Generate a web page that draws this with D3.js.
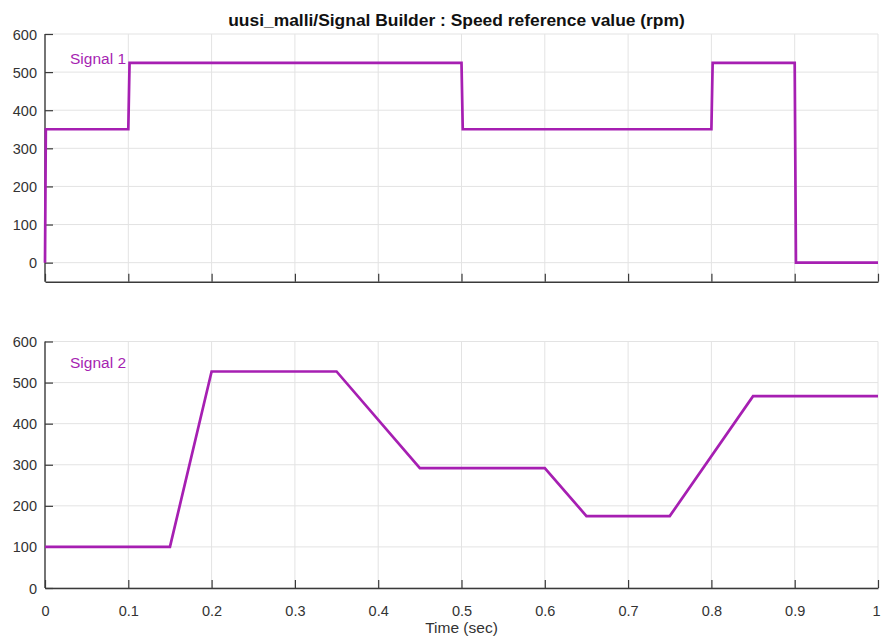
<!DOCTYPE html>
<html><head><meta charset="utf-8">
<script src="https://cdn.jsdelivr.net/npm/d3@7"></script>
<style>
body{margin:0;background:#fff;}
text{font-family:"Liberation Sans",Arial,sans-serif;}
</style></head>
<body><svg id="c" width="881" height="638"></svg>
<script>
const title = "uusi_malli/Signal Builder : Speed reference value (rpm)";
const xLabel = "Time (sec)";
const xTicks = [0,0.1,0.2,0.3,0.4,0.5,0.6,0.7,0.8,0.9,1];
const yTicks = [0,100,200,300,400,500,600];
const signal1Name = "Signal 1";
const signal1Time = [0, 0.001, 0.1, 0.1015, 0.5, 0.5015, 0.8, 0.8015, 0.9, 0.9015, 1];
const signal1Value = [0, 350, 350, 524, 524, 350, 350, 524, 524, 0, 0];
const signal2Name = "Signal 2";
const signal2Time = [0, 0.15, 0.2, 0.35, 0.45, 0.6, 0.65, 0.75, 0.85, 1];
const signal2Value = [100, 100, 527, 527, 292, 292, 175, 175, 467, 467];

const svg = d3.select("#c");
const color = "#a61fb2";
const x = d3.scaleLinear().domain([0,1]).range([45,878]);

const panels = [
  {name:signal1Name, t:signal1Time, v:signal1Value, y:d3.scaleLinear().domain([-50,600]).range([281.7,34]), labels:false},
  {name:signal2Name, t:signal2Time, v:signal2Value, y:d3.scaleLinear().domain([0,600]).range([588,341.5]), labels:true}
];

panels.forEach(p => {
  const g = svg.append("g");
  const [y0,y1] = p.y.range();
  g.append("g").selectAll("line").data(xTicks.slice(1)).join("line")
    .attr("x1",d=>x(d)).attr("x2",d=>x(d)).attr("y1",y1).attr("y2",y0)
    .attr("stroke","#e3e3e3").attr("stroke-width",1);
  g.append("g").selectAll("line").data(yTicks).join("line")
    .attr("x1",x(0)).attr("x2",x(1)).attr("y1",d=>p.y(d)).attr("y2",d=>p.y(d))
    .attr("stroke","#e3e3e3").attr("stroke-width",1);
  const xa = d3.axisBottom(x).tickValues(xTicks).tickSizeInner(-8).tickSizeOuter(0).tickPadding(18)
    .tickFormat(p.labels ? d3.format("") : "");
  const xg = g.append("g").attr("transform",`translate(0,${y0})`).call(xa);
  const ya = d3.axisLeft(p.y).tickValues(yTicks).tickSizeInner(-8).tickSizeOuter(0).tickPadding(8);
  const yg = g.append("g").attr("transform",`translate(${x(0)},0)`).call(ya);
  [xg,yg].forEach(a=>{
    a.select(".domain").attr("stroke","#3a3a3a").attr("stroke-width",1.4);
    a.selectAll(".tick line").attr("stroke","#3a3a3a").attr("stroke-width",1.2);
    a.selectAll("text").attr("fill","#333").style("font-size","14.5px").style("font-family","'Liberation Sans',Arial,sans-serif");
  });
  xg.selectAll(".tick text").filter(d=>d===1).attr("dx","-2");
  yg.selectAll("text").attr("dy","0.35em");
  yg.select(".domain").attr("d",`M0,${y0}V${y1}`);
  const data = p.t.map((t,i)=>[t,p.v[i]]);
  g.append("path").datum(data)
    .attr("d", d3.line().x(d=>x(d[0])).y(d=>p.y(d[1])))
    .attr("fill","none").attr("stroke",color).attr("stroke-width",2.7).attr("stroke-linejoin","miter");
  g.append("text").attr("x",70).attr("y",y1+ (p.labels?22.8:26)).text(p.name)
    .attr("fill",color).style("font-size","15.5px").attr("dominant-baseline","middle");
});

const tt = svg.append("text").attr("x",456.5).attr("y",25.5).attr("text-anchor","middle")
  .style("font-weight","bold").style("font-size","15px").attr("fill","#111").text(title);
const w = tt.node().getComputedTextLength();
tt.style("font-size",(15*457/w).toFixed(2)+"px");

svg.append("text").attr("x",461.5).attr("y",632.5).attr("text-anchor","middle")
  .style("font-size","15.5px").attr("fill","#333").text(xLabel);
</script></body></html>
